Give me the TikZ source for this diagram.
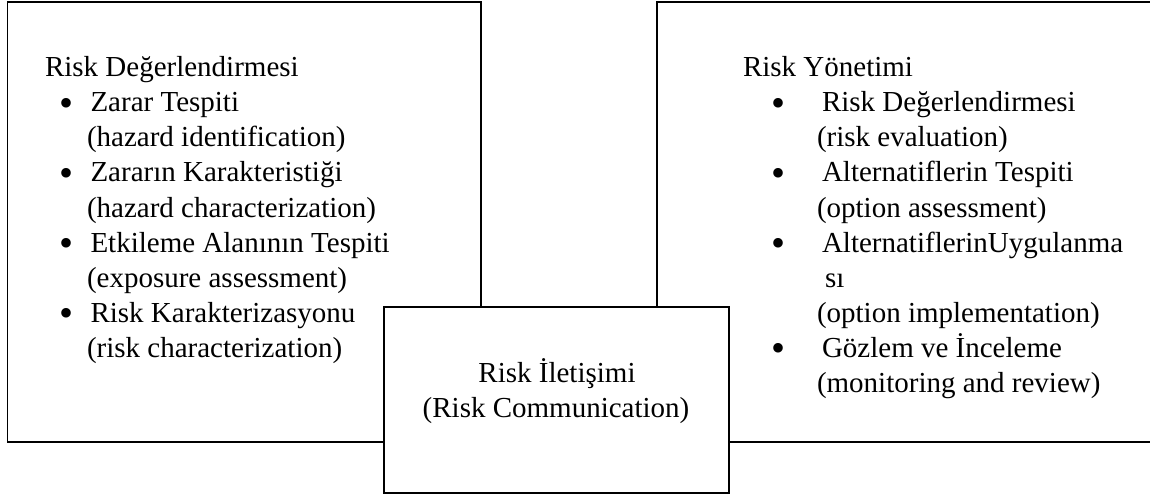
\documentclass[tikz,border=0pt]{standalone}
\usepackage{fontspec}
\setmainfont{Liberation Serif}
\begin{document}
\begin{tikzpicture}[x=1pt,y=-1pt,
  box/.style={draw=black,line width=1.8pt,rectangle,inner sep=0pt,outer sep=0pt},
  txt/.style={anchor=base west,inner sep=0pt,outer sep=0pt,font=\fontsize{29}{35}\selectfont},
  ctr/.style={anchor=base,inner sep=0pt,outer sep=0pt,font=\fontsize{29}{35}\selectfont},
  bul/.style={anchor=base,inner sep=0pt,outer sep=0pt,font=\fontsize{40}{40}\selectfont,yshift=-4.4pt}]
\useasboundingbox (0,0) rectangle (1150,497);
\clip (0,0) rectangle (1150,497);
% boxes
\node[box,minimum width=473.5pt,minimum height=440pt] (lbox) at (244.25,222) {};
\node[box,minimum width=510pt,minimum height=440pt] (rbox) at (912,222) {};
\node[box,fill=white,minimum width=345pt,minimum height=186pt] (mbox) at (556.5,400) {};
% left column
\node[txt] (l0) at (45,77) {Risk Değerlendirmesi};
\node[bul] (lb1) at (67,112) {•};
\node[txt] (l1) at (90.5,112) {Zarar Tespiti};
\node[txt] (l2) at (87,147) {(hazard identification)};
\node[bul] (lb3) at (67,182) {•};
\node[txt] (l3) at (90.5,182) {Zararın Karakteristiği};
\node[txt] (l4) at (87,217) {(hazard characterization)};
\node[bul] (lb5) at (67,252) {•};
\node[txt] (l5) at (90.5,252) {Etkileme Alanının Tespiti};
\node[txt] (l6) at (87,287) {(exposure assessment)};
\node[bul] (lb7) at (67,322) {•};
\node[txt] (l7) at (90.5,322) {Risk Karakterizasyonu};
\node[txt] (l8) at (87,357) {(risk characterization)};
% right column
\node[txt] (r0) at (743,77) {Risk Yönetimi};
\node[bul] (rb1) at (778,112) {•};
\node[txt] (r1) at (822,112) {Risk Değerlendirmesi};
\node[txt] (r2) at (817,147) {(risk evaluation)};
\node[bul] (rb3) at (778,182) {•};
\node[txt] (r3) at (822,182) {Alternatiflerin Tespiti};
\node[txt] (r4) at (817,217) {(option assessment)};
\node[bul] (rb5) at (778,252) {•};
\node[txt] (r5) at (822,252) {AlternatiflerinUygulanma};
\node[txt] (r6) at (825,287) {sı};
\node[txt] (r7) at (817,322) {(option implementation)};
\node[bul] (rb8) at (778,357) {•};
\node[txt] (r8) at (822,357) {Gözlem ve İnceleme};
\node[txt] (r9) at (817,392) {(monitoring and review)};
% middle
\node[ctr] (m0) at (557,382) {Risk İletişimi};
\node[ctr] (m1) at (556,417) {(Risk Communication)};
\end{tikzpicture}
\end{document}
